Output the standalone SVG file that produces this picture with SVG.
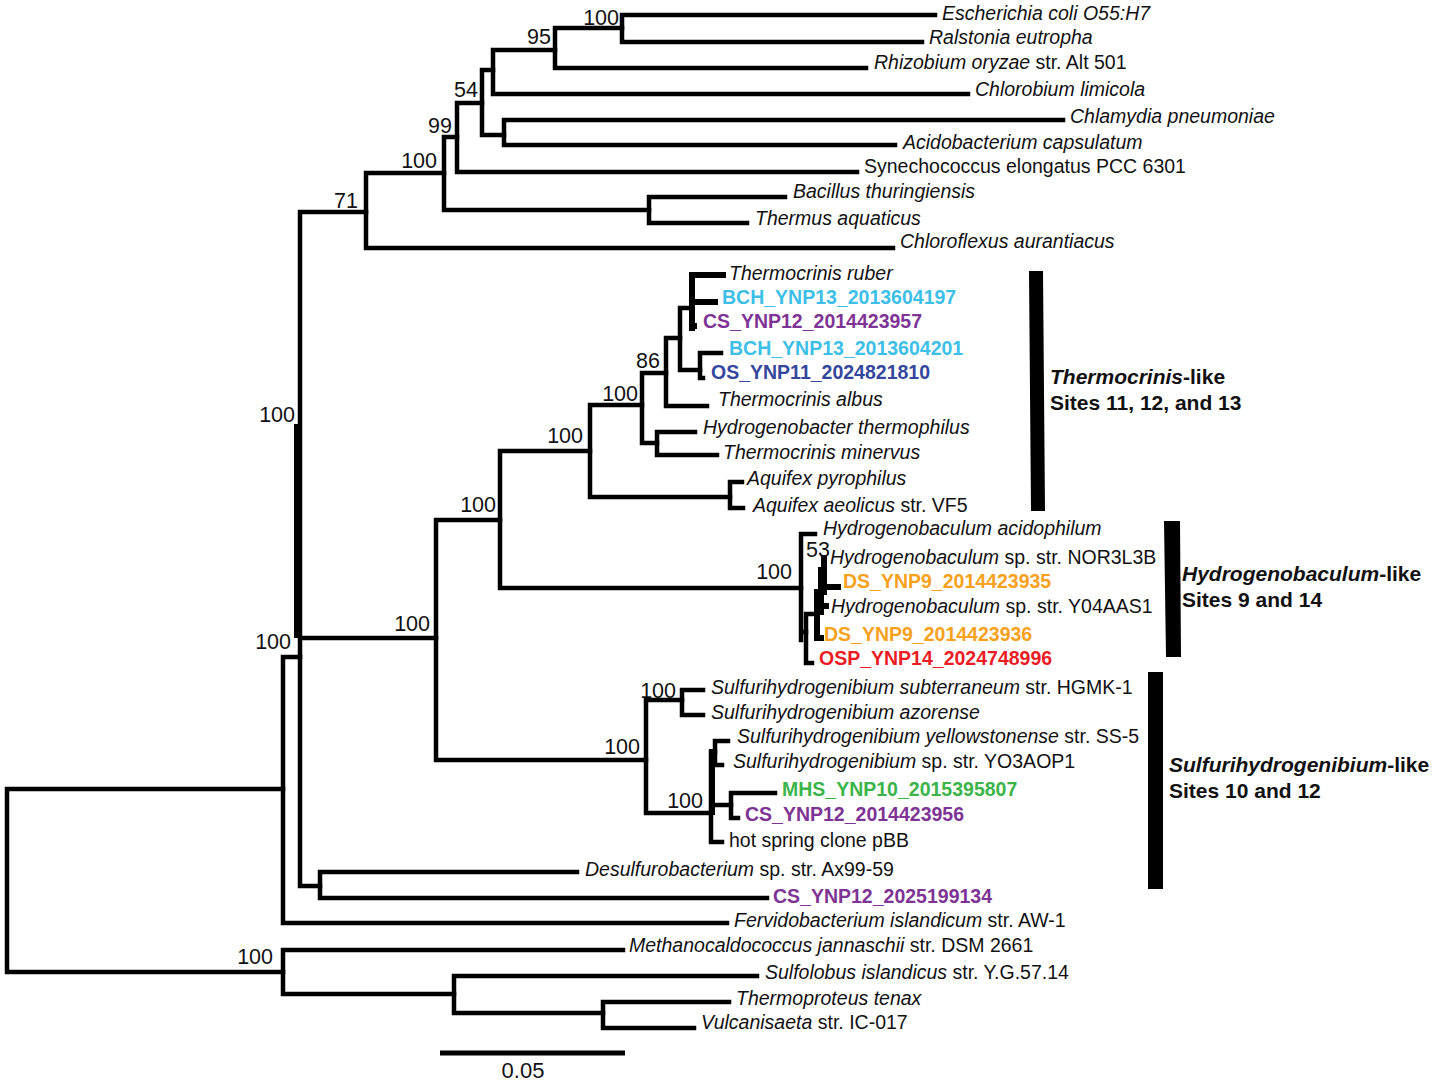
<svg xmlns="http://www.w3.org/2000/svg" width="1439" height="1083" viewBox="0 0 1439 1083">
<style>
text{font-family:"Liberation Sans",Arial,sans-serif;font-size:19.5px;fill:#111}
.i{font-style:italic}
.b{font-weight:bold}
.bs{text-anchor:end;font-size:21.5px}
.cy{fill:#3dbfe8;font-weight:bold}
.pu{fill:#7e3494;font-weight:bold}
.db{fill:#34479d;font-weight:bold}
.or{fill:#f8a11c;font-weight:bold}
.rd{fill:#ec1c24;font-weight:bold}
.gr{fill:#3bb44a;font-weight:bold}
.grp{font-size:21px;font-weight:bold}
#edges path{fill:none;stroke:#000;stroke-width:4.5;stroke-linecap:square;stroke-linejoin:miter}
#edges .t{stroke-width:6}
</style>
<rect width="1439" height="1083" fill="#fff"/>
<g id="edges">
<path d="M7 789V972M7 789H283M7 972H283"/>
<path d="M283 657V923M283 657H300M283 923H727"/>
<path d="M300 212V886M300 212H366M300 638H436M300 886H320"/>
<path class="t" d="M298 424V638" style="stroke-width:8;stroke-linecap:butt"/>
<path d="M366 173V248M366 173H444M366 248H893"/>
<path d="M444 137V210M444 137H457M444 210H649"/>
<path d="M457 103V172M457 103H482M457 172H857"/>
<path d="M482 70V135M482 70H493M482 135H504"/>
<path d="M493 50V94M493 50H555M493 94H968"/>
<path d="M555 28V68M555 28H622M555 68H866"/>
<path d="M622 15V42M622 15H935M622 42H922"/>
<path d="M504 120V145M504 120H1063M504 145H895"/>
<path d="M649 197V223M649 197H785M649 223H747"/>
<path d="M320 872V898M320 872H577M320 898H767"/>
<path d="M283 950V994M283 950H623M283 994H454"/>
<path d="M454 976V1013M454 976H757M454 1013H603"/>
<path d="M603 1002V1028M603 1002H729M603 1028H694"/>
<path d="M436 520V760M436 520H500M436 760H646"/>
<path d="M500 451V588M500 451H590M500 588H801"/>
<path d="M590 405V497M590 405H642M590 497H730"/>
<path d="M642 373V443M642 373H666M642 443H657"/>
<path d="M666 338V406M666 338H680M666 406H707"/>
<path d="M680 308V370M680 308H692M680 370H700"/>
<path class="t" d="M692 275V328M692 275H723M692 302H715M692 326H694"/>
<path d="M700 353V378M700 353H721M700 378H703"/>
<path d="M657 432V455M657 432H695M657 455H717"/>
<path d="M730 482V508M730 482H742M730 508H743"/>
<path d="M801 534V640M801 534H815M801 632H806"/>
<path d="M806 614V663M806 663H812M806 614H817"/>
<path class="t" d="M817 592V638M817 638H821"/>
<path class="t" d="M821 570V612M821 606H826"/>
<path class="t" d="M824 558V592M824 587H838"/>
<path d="M646 700V813M646 700H682M646 813H711"/>
<path d="M682 690V715M682 690H703M682 715H703"/>
<path d="M711 752V842M711 752H715M711 805H731M711 842H722"/>
<path class="t" d="M712 752V812"/>
<path d="M715 741V765M715 741H728M715 765H722"/>
<path d="M731 793V818M731 793H775M731 818H738"/>
<path d="M440 1053H625" style="stroke-linecap:butt;stroke-width:5"/>
</g>
<g id="support">
<text class="bs" x="619" y="25">100</text>
<text class="bs" x="551" y="44">95</text>
<text class="bs" x="478" y="97">54</text>
<text class="bs" x="452" y="133">99</text>
<text class="bs" x="437" y="168">100</text>
<text class="bs" x="358" y="208">71</text>
<text class="bs" x="295" y="422">100</text>
<text class="bs" x="291" y="649">100</text>
<text class="bs" x="430" y="631">100</text>
<text class="bs" x="496" y="512">100</text>
<text class="bs" x="583" y="443">100</text>
<text class="bs" x="638" y="401">100</text>
<text class="bs" x="660" y="368">86</text>
<text class="bs" x="792" y="579">100</text>
<text class="bs" x="830" y="557">53</text>
<text class="bs" x="676" y="698">100</text>
<text class="bs" x="640" y="754">100</text>
<text class="bs" x="703" y="808">100</text>
<text class="bs" x="273" y="964">100</text>
</g>
<g id="taxa">
<g id="t1"><text class="i" x="942" y="20">Escherichia coli O55:H7</text></g>
<g id="t2"><text class="i" x="929" y="44">Ralstonia eutropha</text></g>
<g id="t3"><text x="874" y="69"><tspan class="i">Rhizobium oryzae</tspan> str. Alt 501</text></g>
<g id="t4"><text class="i" x="975" y="96">Chlorobium limicola</text></g>
<g id="t5"><text class="i" x="1070" y="123">Chlamydia pneumoniae</text></g>
<g id="t6"><text class="i" x="903" y="149">Acidobacterium capsulatum</text></g>
<g id="t7"><text x="864" y="173">Synechococcus elongatus PCC 6301</text></g>
<g id="t8"><text class="i" x="793" y="198">Bacillus thuringiensis</text></g>
<g id="t9"><text class="i" x="755" y="225">Thermus aquaticus</text></g>
<g id="t10"><text class="i" x="900" y="248">Chloroflexus aurantiacus</text></g>
<g id="t11"><text class="i" x="729" y="280">Thermocrinis ruber</text></g>
<g id="t12"><text class="cy" x="722" y="304">BCH_YNP13_2013604197</text></g>
<g id="t13"><text class="pu" x="703" y="328">CS_YNP12_2014423957</text></g>
<g id="t14"><text class="cy" x="729" y="355">BCH_YNP13_2013604201</text></g>
<g id="t15"><text class="db" x="711" y="379">OS_YNP11_2024821810</text></g>
<g id="t16"><text class="i" x="718" y="406">Thermocrinis albus</text></g>
<g id="t17"><text class="i" x="703" y="434">Hydrogenobacter thermophilus</text></g>
<g id="t18"><text class="i" x="723" y="459">Thermocrinis minervus</text></g>
<g id="t19"><text class="i" x="747" y="485">Aquifex pyrophilus</text></g>
<g id="t20"><text x="753" y="512"><tspan class="i">Aquifex aeolicus</tspan> str. VF5</text></g>
<g id="t21"><text class="i" x="823" y="535">Hydrogenobaculum acidophilum</text></g>
<g id="t22"><text x="830" y="564"><tspan class="i">Hydrogenobaculum</tspan> sp. str. NOR3L3B</text></g>
<g id="t23"><text class="or" x="843" y="588">DS_YNP9_2014423935</text></g>
<g id="t24"><text x="831" y="613"><tspan class="i">Hydrogenobaculum</tspan> sp. str. Y04AAS1</text></g>
<g id="t25"><text class="or" x="824" y="641">DS_YNP9_2014423936</text></g>
<g id="t26"><text class="rd" x="819" y="665">OSP_YNP14_2024748996</text></g>
<g id="t27"><text x="711" y="694"><tspan class="i">Sulfurihydrogenibium subterraneum</tspan> str. HGMK-1</text></g>
<g id="t28"><text class="i" x="711" y="719">Sulfurihydrogenibium azorense</text></g>
<g id="t29"><text x="737" y="743"><tspan class="i">Sulfurihydrogenibium yellowstonense</tspan> str. SS-5</text></g>
<g id="t30"><text x="733" y="768"><tspan class="i">Sulfurihydrogenibium</tspan> sp. str. YO3AOP1</text></g>
<g id="t31"><text class="gr" x="782" y="796">MHS_YNP10_2015395807</text></g>
<g id="t32"><text class="pu" x="745" y="821">CS_YNP12_2014423956</text></g>
<g id="t33"><text x="729" y="847">hot spring clone pBB</text></g>
<g id="t34"><text x="585" y="876"><tspan class="i">Desulfurobacterium</tspan> sp. str. Ax99-59</text></g>
<g id="t35"><text class="pu" x="773" y="903">CS_YNP12_2025199134</text></g>
<g id="t36"><text x="734" y="927"><tspan class="i">Fervidobacterium islandicum</tspan> str. AW-1</text></g>
<g id="t37"><text x="629" y="952"><tspan class="i">Methanocaldococcus jannaschii</tspan> str. DSM 2661</text></g>
<g id="t38"><text x="765" y="979"><tspan class="i">Sulfolobus islandicus</tspan> str. Y.G.57.14</text></g>
<g id="t39"><text class="i" x="736" y="1005">Thermoproteus tenax</text></g>
<g id="t40"><text x="701" y="1029"><tspan class="i">Vulcanisaeta</tspan> str. IC-017</text></g>
</g>
<g id="groups">
<g id="g-thermocrinis">
<polygon points="1029,271 1043,271 1045,511 1031,511" fill="#000"/>
<text class="grp" x="1050" y="384"><tspan class="i">Thermocrinis</tspan>-like</text>
<text class="grp" x="1050" y="410">Sites 11, 12, and 13</text>
</g>
<g id="g-hydrogenobaculum">
<polygon points="1164,521 1180,521 1181,657 1166,657" fill="#000"/>
<text class="grp" x="1182" y="581"><tspan class="i">Hydrogenobaculum</tspan>-like</text>
<text class="grp" x="1182" y="607">Sites 9 and 14</text>
</g>
<g id="g-sulfuri">
<polygon points="1148,672 1163,672 1163,889 1148,889" fill="#000"/>
<text class="grp" x="1169" y="772"><tspan class="i">Sulfurihydrogenibium</tspan>-like</text>
<text class="grp" x="1169" y="798">Sites 10 and 12</text>
</g>
</g>
<g id="scale"><text x="523" y="1078" text-anchor="middle" style="font-size:22px">0.05</text></g>
</svg>
